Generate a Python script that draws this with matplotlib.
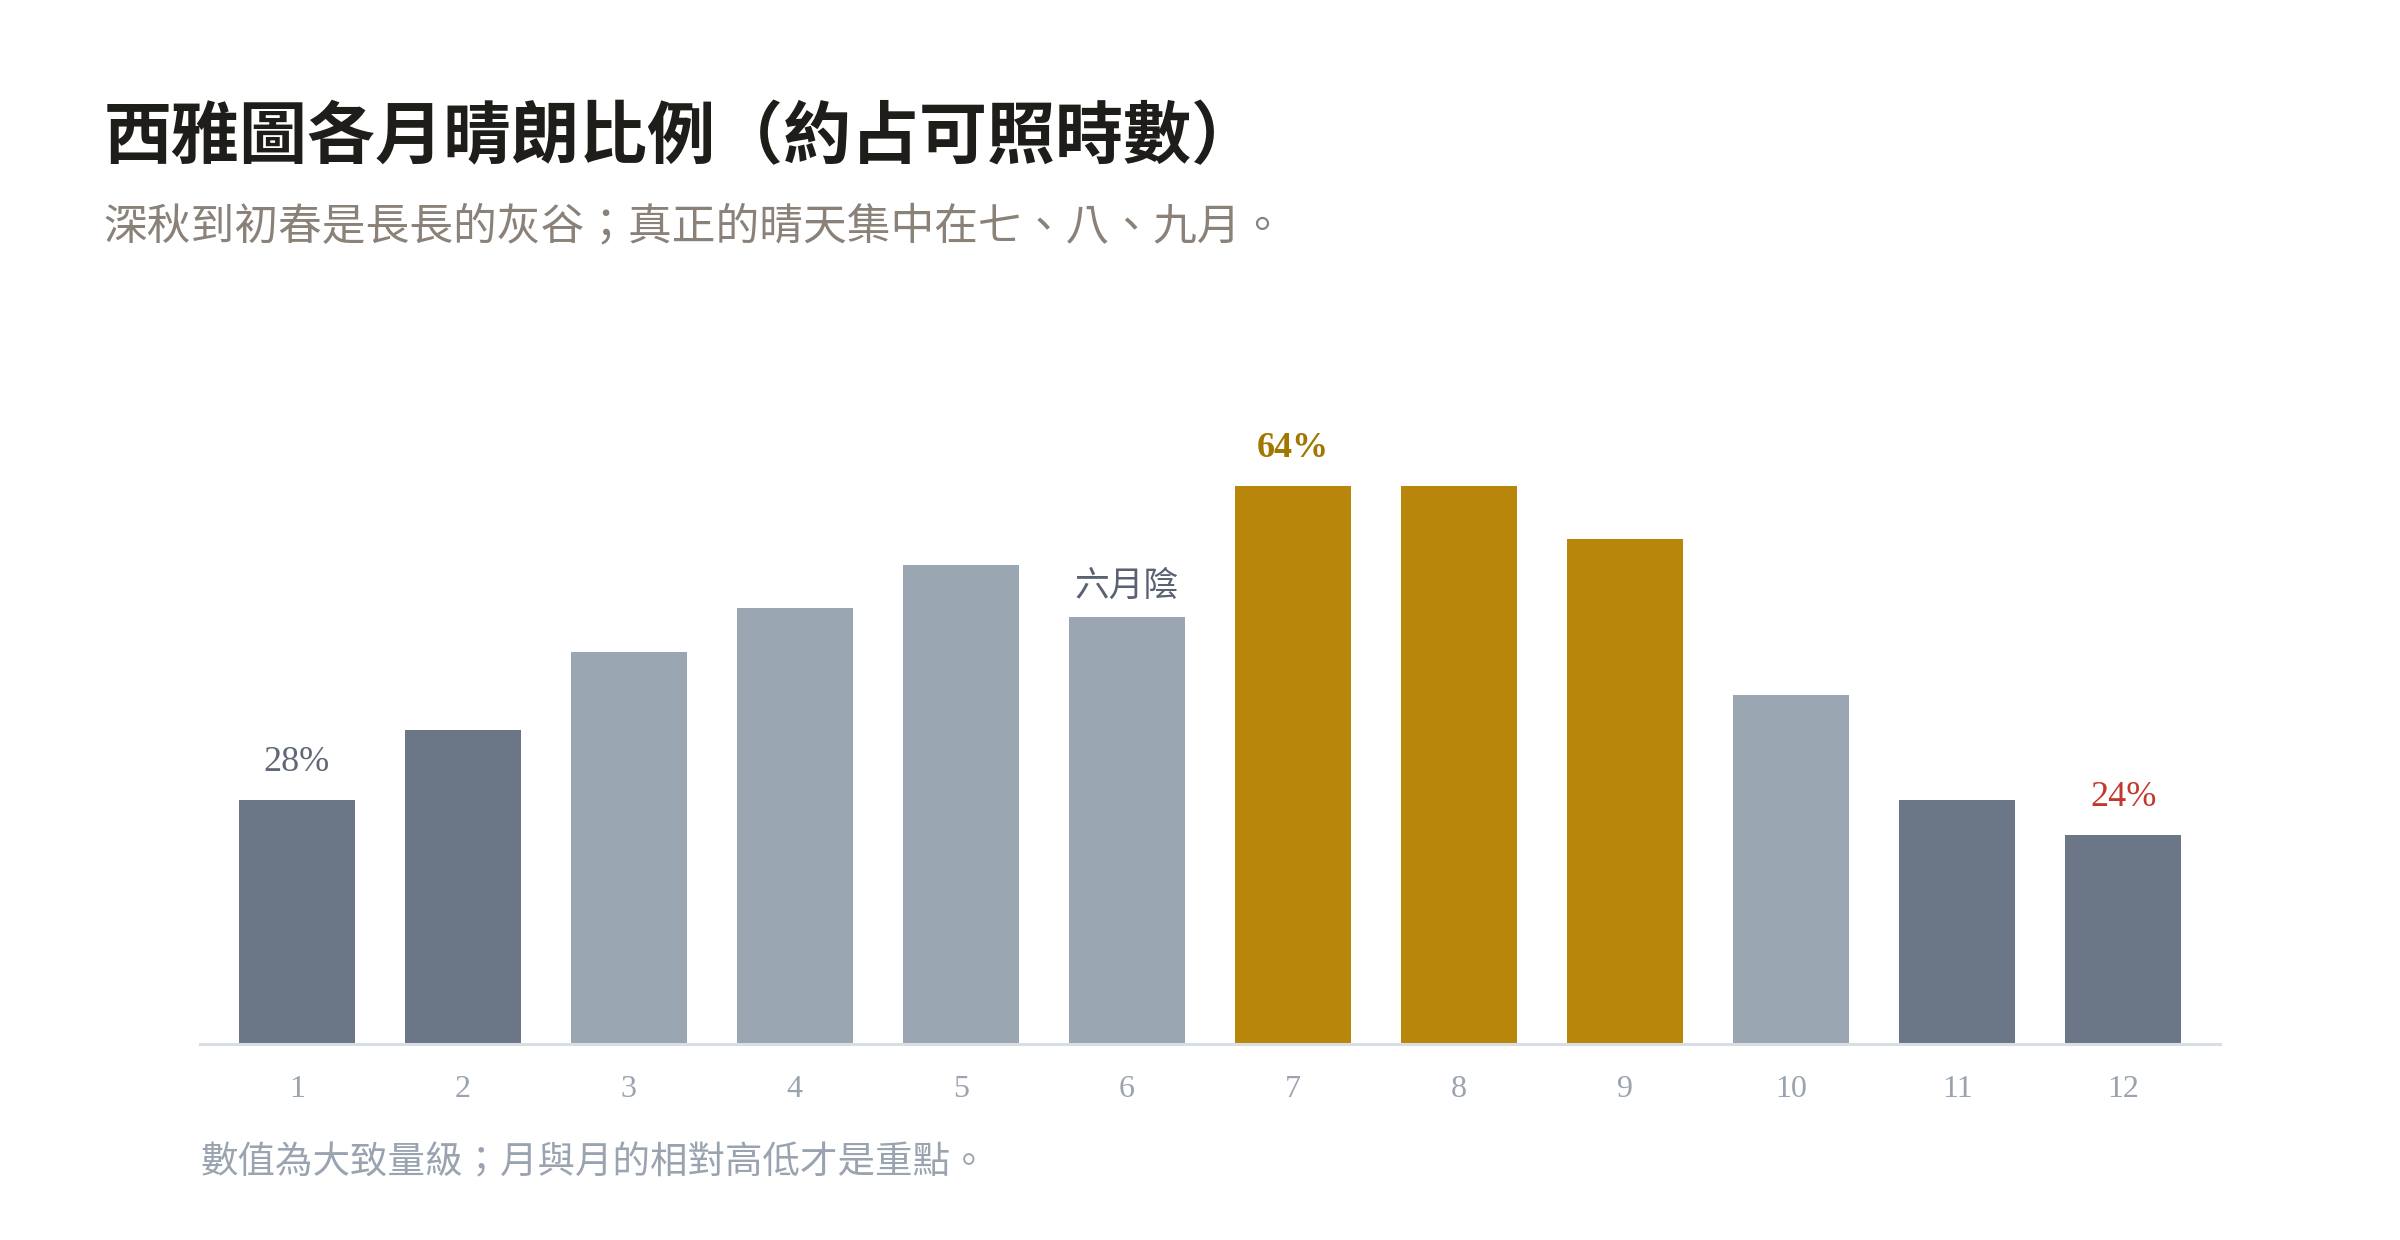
import matplotlib
matplotlib.use("Agg")
import matplotlib.pyplot as plt

# Seattle monthly sunshine share (approx. % of possible hours)
months = list(range(1, 13))
sunny_pct = [28, 36, 45, 50, 55, 49, 64, 64, 58, 40, 28, 24]
tones = ["dark", "dark", "light", "light", "light", "light",
         "gold", "gold", "gold", "light", "dark", "dark"]

title = "西雅圖各月晴朗比例（約占可照時數）"
subtitle = "深秋到初春是長長的灰谷；真正的晴天集中在七、八、九月。"
footnote = "數值為大致量級；月與月的相對高低才是重點。"

palette = {"dark": "#6b7687", "light": "#9ba6b3", "gold": "#b8860b"}
fonts = ["Liberation Serif", "Noto Sans CJK TC", "DejaVu Sans"]
cjk = ["Noto Sans CJK TC", "DejaVu Sans"]
plt.rcParams["font.family"] = fonts

fig = plt.figure(figsize=(24, 12.4), dpi=100)
ax = fig.add_axes([0.0835, 0.158, 0.8413, 0.492])

ax.bar(months, sunny_pct, width=0.7, color=[palette[t] for t in tones], zorder=2)
ax.set_xlim(0.42, 12.58)
ax.set_ylim(0, 70)

for side in ["top", "right", "left"]:
    ax.spines[side].set_visible(False)
ax.spines["bottom"].set_color("#d9dde4")
ax.spines["bottom"].set_linewidth(2.2)
ax.set_yticks([])
ax.set_xticks(months)
ax.set_xticklabels([str(m) for m in months])
ax.tick_params(axis="x", length=0, pad=22, labelsize=23, labelcolor="#9aa3ae")

# callouts
ax.annotate(f"{sunny_pct[0]}%", (1, sunny_pct[0]), xytext=(0, 27),
            textcoords="offset points", ha="center", va="center",
            fontsize=26, color="#5f6878")
ax.annotate(f"{sunny_pct[6]}%", (7, sunny_pct[6]), xytext=(0, 27),
            textcoords="offset points", ha="center", va="center",
            fontsize=26, fontweight="bold", color="#a27700")
ax.annotate("六月陰", (6, sunny_pct[5]), xytext=(0, 22),
            textcoords="offset points", ha="center", va="center",
            fontsize=25, color="#5a6272", family=cjk)
ax.annotate(f"{sunny_pct[11]}%", (12, sunny_pct[11]), xytext=(0, 27),
            textcoords="offset points", ha="center", va="center",
            fontsize=26, color="#c0392b")

fig.text(0.043, 0.888, title, fontsize=49, fontweight="bold",
         color="#1f1d1a", va="center", ha="left", family=cjk)
fig.text(0.043, 0.817, subtitle, fontsize=31.5, color="#8a8178",
         va="center", ha="left", family=cjk)
fig.text(0.0835, 0.062, footnote, fontsize=27, color="#9aa3b0",
         va="center", ha="left", family=cjk)

fig.savefig("out.png", dpi=100, facecolor="white")
